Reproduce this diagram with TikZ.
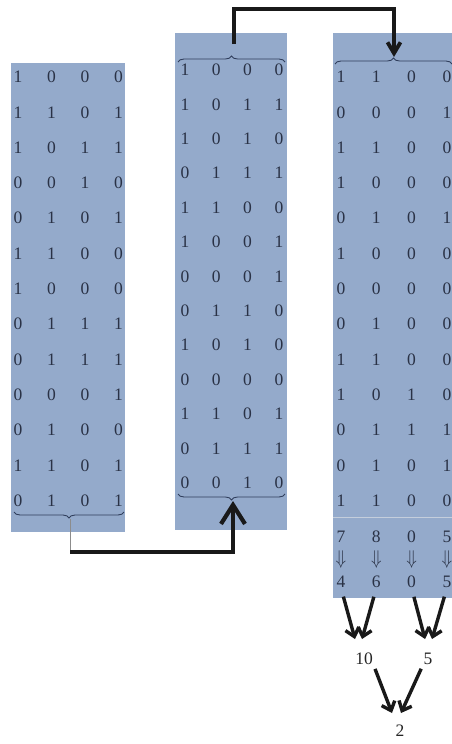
\documentclass[tikz,border=0pt]{standalone}
\usepackage{fontspec}
\setmainfont{Liberation Serif}
\usetikzlibrary{arrows.meta,decorations.pathreplacing}
\definecolor{panel}{RGB}{148,170,203}
\definecolor{digit}{RGB}{42,50,70}
\definecolor{bracecol}{RGB}{48,62,92}
\definecolor{sepline}{RGB}{196,206,220}
\begin{document}
\begin{tikzpicture}[x=1pt,y=-1pt,
  panelbox/.style={fill=panel, draw=none, inner sep=0pt, outer sep=0pt, anchor=north west},
  bit/.style={text=digit, font=\fontsize{17.5}{17.5}\selectfont, inner sep=1pt},
  label/.style={text=black!85, font=\fontsize{17.5}{17.5}\selectfont, inner sep=1pt},
  curly/.style={draw=bracecol, line width=0.9pt, decorate, decoration={brace, amplitude=6pt}},
  feed/.style={line width=4.8pt, black!90, line join=miter},
  bighead/.style={-{Straight Barb[length=19pt,width=24pt,line width=4.2pt]}},
  tophead/.style={-{Straight Barb[length=11pt,width=13pt,line width=3.8pt]}},
  reduce/.style={line width=3.4pt, black!90, -{Straight Barb[length=8pt,width=14pt,line width=3.4pt]}},
  thinlink/.style={draw=black!45, line width=0.6pt}
]
\useasboundingbox (0,0) rectangle (452,744);

% the three panels
\node[panelbox, minimum width=114pt, minimum height=469pt] (Lbox) at (11,63) {};
\node[panelbox, minimum width=112pt, minimum height=497pt] (Mbox) at (175,33) {};
\node[panelbox, minimum width=120pt, minimum height=565pt] (Rbox) at (333,33) {};

% left panel bits
\foreach \row [count=\r] in {{1,0,0,0},{1,1,0,1},{1,0,1,1},{0,0,1,0},{0,1,0,1},{1,1,0,0},{1,0,0,0},{0,1,1,1},{0,1,1,1},{0,0,0,1},{0,1,0,0},{1,1,0,1},{0,1,0,1}}
  \foreach \v [count=\c] in \row
    \node[bit] (L-\r-\c) at ({18+33.5*(\c-1)}, {77+35.3*(\r-1)}) {\v};

% middle panel bits
\foreach \row [count=\r] in {{1,0,0,0},{1,0,1,1},{1,0,1,0},{0,1,1,1},{1,1,0,0},{1,0,0,1},{0,0,0,1},{0,1,1,0},{1,0,1,0},{0,0,0,0},{1,1,0,1},{0,1,1,1},{0,0,1,0}}
  \foreach \v [count=\c] in \row
    \node[bit] (M-\r-\c) at ({185+31.3*(\c-1)}, {70+34.4*(\r-1)}) {\v};

% right panel bits
\foreach \row [count=\r] in {{1,1,0,0},{0,0,0,1},{1,1,0,0},{1,0,0,0},{0,1,0,1},{1,0,0,0},{0,0,0,0},{0,1,0,0},{1,1,0,0},{1,0,1,0},{0,1,1,1},{0,1,0,1},{1,1,0,0}}
  \foreach \v [count=\c] in \row
    \node[bit] (R-\r-\c) at ({341+35.3*(\c-1)}, {77+35.3*(\r-1)}) {\v};

% column sums, arrows and halved values
\draw[sepline, line width=0.8pt] (333,517) -- (452,517);
\foreach \v [count=\c] in {7,8,0,5}
  \node[bit, inner sep=0pt] (S-\c) at ({341+35.3*(\c-1)}, 537) {\v};
\foreach \c in {1,...,4}
  \node[bit, inner sep=0pt, yscale=1.15] (D-\c) at ({341+35.3*(\c-1)}, 560) {$\Downarrow$};
\foreach \v [count=\c] in {4,6,0,5}
  \node[bit, inner sep=0pt] (H-\c) at ({341+35.3*(\c-1)}, 582) {\v};

% braces
\draw[curly] (124,512) -- (14,512);
\draw[curly] (178,62) -- (285,62);
\draw[curly] (285,494) -- (178,494);
\draw[curly] (335,64) -- (452,64);

\coordinate (Lbt) at (70,519);
\coordinate (Mtop) at (234,44);
\coordinate (Mbt) at (233,501);
\coordinate (Rtt) at (394,57);
\coordinate (turnA) at (70,552);
\coordinate (turnB) at (233,552);
\coordinate (turnC) at (234,9);
\coordinate (turnD) at (394,9);

% feed from left panel into middle panel
\draw[thinlink] (Lbt) -- (turnA);
\draw[feed, bighead] (turnA) -- (turnB) -- (Mbt);

% feed from middle panel into right panel
\draw[feed, tophead] (Mtop) -- (turnC) -- (turnD) -- (Rtt);

% reduction tree
\node[label] (ten) at (364,659) {10};
\node[label] (five) at (428,659) {5};
\node[label] (two) at (400,731) {2};

\coordinate (tenA) at (355,639);
\coordinate (tenB) at (362,639);
\coordinate (fiveA) at (425,639);
\coordinate (fiveB) at (432,639);
\coordinate (twoA) at (392,713);
\coordinate (twoB) at (401,713);

\draw[reduce, shorten <=9pt] (H-1.south) -- (tenA);
\draw[reduce, shorten <=9pt] (H-2.south) -- (tenB);
\draw[reduce, shorten <=9pt] (H-3.south) -- (fiveA);
\draw[reduce, shorten <=9pt] (H-4.south) -- (fiveB);
\draw[reduce, shorten <=3pt] (ten.south east) -- (twoA);
\draw[reduce, shorten <=3pt] (five.south west) -- (twoB);
\end{tikzpicture}
\end{document}
